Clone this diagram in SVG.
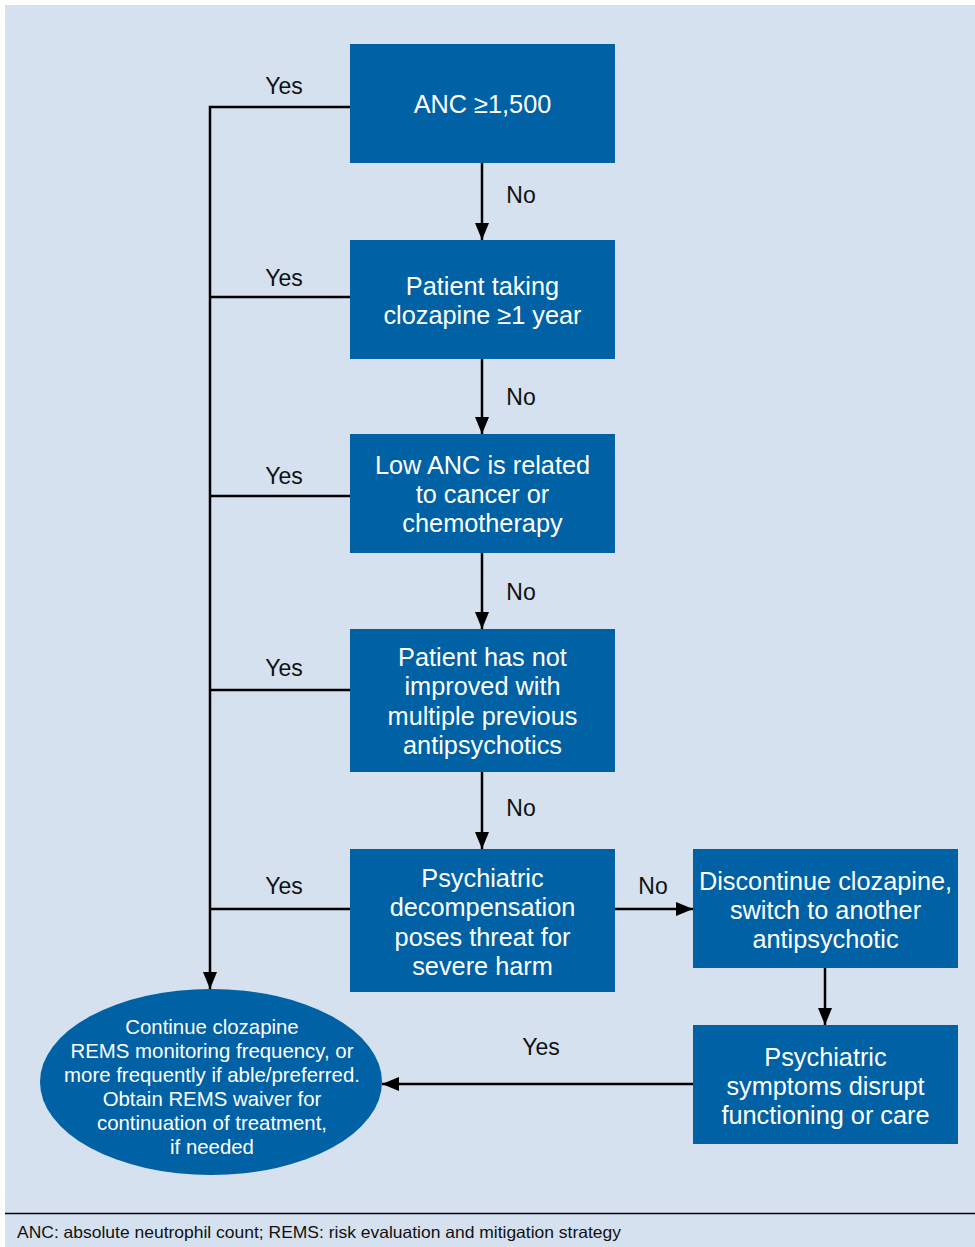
<svg xmlns="http://www.w3.org/2000/svg" width="975" height="1247" viewBox="0 0 975 1247">
<style>
.box{fill:#0061A5}
.bt{font-family:"Liberation Sans",Arial,sans-serif;font-size:25.3px;fill:#fff;text-anchor:middle}
.et{font-family:"Liberation Sans",Arial,sans-serif;font-size:20.4px;fill:#fff;text-anchor:middle}
.lbl{font-family:"Liberation Sans",Arial,sans-serif;font-size:23px;fill:#111;text-anchor:middle}
.ln{stroke:#000;stroke-width:2.5;fill:none}
</style>
<defs>
<marker id="ah" viewBox="0 0 17 14" refX="17" refY="7" markerWidth="17" markerHeight="14" markerUnits="userSpaceOnUse" orient="auto">
<path d="M0,0 L17,7 L0,14 Z" fill="#000"/>
</marker>
</defs>
<rect x="0" y="0" width="975" height="1247" fill="#fff"/>
<rect x="5" y="5" width="970" height="1242" fill="#D5E1EF"/>
<line x1="5" y1="1213.5" x2="975" y2="1213.5" stroke="#000" stroke-width="1.5"/>
<text x="17" y="1238" font-family="'Liberation Sans',Arial,sans-serif" font-size="16.5" fill="#111" textLength="604" lengthAdjust="spacingAndGlyphs">ANC: absolute neutrophil count; REMS: risk evaluation and mitigation strategy</text>

<g id="connectors">
<polyline class="ln" points="350,107 210,107 210,989" marker-end="url(#ah)"/>
<line class="ln" x1="210" y1="297" x2="350" y2="297"/>
<line class="ln" x1="210" y1="496" x2="350" y2="496"/>
<line class="ln" x1="210" y1="690" x2="350" y2="690"/>
<line class="ln" x1="210" y1="909" x2="350" y2="909"/>
<line class="ln" x1="482" y1="163" x2="482" y2="240" marker-end="url(#ah)"/>
<line class="ln" x1="482" y1="359" x2="482" y2="434" marker-end="url(#ah)"/>
<line class="ln" x1="482" y1="553" x2="482" y2="629" marker-end="url(#ah)"/>
<line class="ln" x1="482" y1="772" x2="482" y2="849" marker-end="url(#ah)"/>
<line class="ln" x1="615" y1="909" x2="693" y2="909" marker-end="url(#ah)"/>
<line class="ln" x1="825" y1="968" x2="825" y2="1025" marker-end="url(#ah)"/>
<line class="ln" x1="693" y1="1084" x2="382" y2="1084" marker-end="url(#ah)"/>
<text class="lbl" x="284" y="94">Yes</text>
<text class="lbl" x="284" y="286">Yes</text>
<text class="lbl" x="284" y="484">Yes</text>
<text class="lbl" x="284" y="676">Yes</text>
<text class="lbl" x="284" y="894">Yes</text>
<text class="lbl" x="521" y="203">No</text>
<text class="lbl" x="521" y="405">No</text>
<text class="lbl" x="521" y="600">No</text>
<text class="lbl" x="521" y="816">No</text>
<text class="lbl" x="653" y="894">No</text>
<text class="lbl" x="541" y="1055">Yes</text>
</g>

<g id="n1">
<rect class="box" x="350" y="44" width="265" height="119"/>
<text class="bt" x="482.5" y="113">ANC ≥1,500</text>
</g>
<g id="n2">
<rect class="box" x="350" y="240" width="265" height="119"/>
<text class="bt" x="482.5" y="295">Patient taking</text>
<text class="bt" x="482.5" y="324">clozapine ≥1 year</text>
</g>
<g id="n3">
<rect class="box" x="350" y="434" width="265" height="119"/>
<text class="bt" x="482.5" y="474">Low ANC is related</text>
<text class="bt" x="482.5" y="503">to cancer or</text>
<text class="bt" x="482.5" y="532">chemotherapy</text>
</g>
<g id="n4">
<rect class="box" x="350" y="629" width="265" height="143"/>
<text class="bt" x="482.5" y="666">Patient has not</text>
<text class="bt" x="482.5" y="695">improved with</text>
<text class="bt" x="482.5" y="725">multiple previous</text>
<text class="bt" x="482.5" y="754">antipsychotics</text>
</g>
<g id="n5">
<rect class="box" x="350" y="849" width="265" height="143"/>
<text class="bt" x="482.5" y="887">Psychiatric</text>
<text class="bt" x="482.5" y="916">decompensation</text>
<text class="bt" x="482.5" y="946">poses threat for</text>
<text class="bt" x="482.5" y="975">severe harm</text>
</g>
<g id="n6">
<rect class="box" x="693" y="849" width="265" height="119"/>
<text class="bt" x="825.5" y="890">Discontinue clozapine,</text>
<text class="bt" x="825.5" y="919">switch to another</text>
<text class="bt" x="825.5" y="948">antipsychotic</text>
</g>
<g id="n7">
<rect class="box" x="693" y="1025" width="265" height="119"/>
<text class="bt" x="825.5" y="1066">Psychiatric</text>
<text class="bt" x="825.5" y="1095">symptoms disrupt</text>
<text class="bt" x="825.5" y="1124">functioning or care</text>
</g>
<g id="n8">
<ellipse class="box" cx="211" cy="1082" rx="171" ry="93"/>
<text class="et" x="212" y="1034">Continue clozapine</text>
<text class="et" x="212" y="1058">REMS monitoring frequency, or</text>
<text class="et" x="212" y="1082">more frequently if able/preferred.</text>
<text class="et" x="212" y="1106">Obtain REMS waiver for</text>
<text class="et" x="212" y="1130">continuation of treatment,</text>
<text class="et" x="212" y="1154">if needed</text>
</g>
</svg>
